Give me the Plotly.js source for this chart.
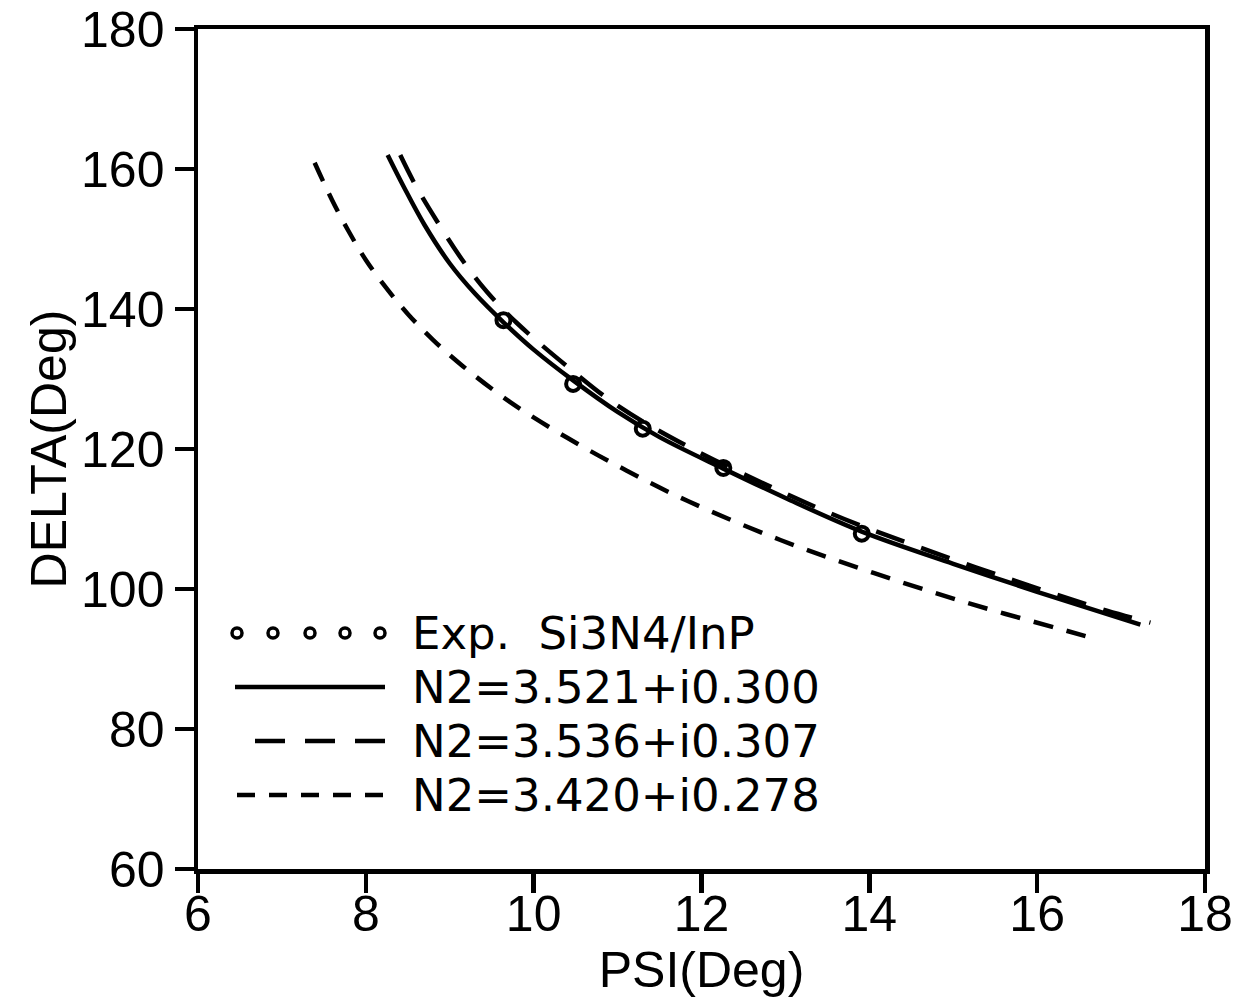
<!DOCTYPE html>
<html>
<head>
<meta charset="utf-8">
<script src="https://cdn.plot.ly/plotly-3.0.1.min.js"></script>
<style>html,body{margin:0;padding:0;background:#fff;}</style>
</head>
<body>
<div id="chart" style="width:1242px;height:998px;"></div>
<script>
// Experimental points
const expPsi   = [9.64, 10.47, 11.30, 12.26, 13.91];
const expDelta = [138.4, 129.3, 122.9, 117.3, 107.9];

// N2 = 3.521 + i0.300 (solid)
const solidPsi   = [8.26, 8.45, 8.70, 9.00, 9.30, 9.64, 10.00, 10.47, 11.00, 11.50, 12.26, 13.00, 13.91, 15.00, 16.00, 17.23];
const solidDelta = [162.0, 157.5, 152.0, 146.5, 142.2, 138.1, 134.2, 129.8, 125.3, 121.7, 117.2, 113.0, 108.2, 103.6, 99.6, 94.9];

// N2 = 3.536 + i0.307 (long dash)
const longPsi   = [8.41, 8.60, 8.85, 9.15, 9.44, 9.80, 10.43, 11.00, 11.80, 12.88, 13.70, 14.52, 15.68, 16.83, 17.35];
const longDelta = [162.0, 157.5, 152.5, 147.0, 142.5, 138.0, 131.5, 126.2, 120.6, 114.3, 110.0, 106.3, 101.4, 96.9, 95.2];

// N2 = 3.420 + i0.278 (short dash)
const shortPsi   = [7.39, 7.60, 7.80, 8.00, 8.25, 8.50, 8.80, 9.16, 9.72, 10.40, 11.11, 11.83, 12.94, 14.05, 15.20, 16.36, 16.66];
const shortDelta = [160.9, 155.5, 151.0, 147.0, 142.9, 139.3, 135.6, 131.8, 126.7, 121.6, 116.9, 112.6, 107.0, 102.3, 97.9, 94.0, 93.0];

const seriesNames = ["Exp.  Si3N4/InP", "N2=3.521+i0.300", "N2=3.536+i0.307", "N2=3.420+i0.278"];
const xTicks = [6, 8, 10, 12, 14, 16, 18];
const yTicks = [60, 80, 100, 120, 140, 160, 180];

const FONT = "Liberation Sans, Arial, sans-serif";
const LW = 4.5;

const traces = [
  {x: solidPsi, y: solidDelta, mode: "lines", name: seriesNames[1],
   line: {color: "#000", width: LW, shape: "spline", smoothing: 1}},
  {x: longPsi, y: longDelta, mode: "lines", name: seriesNames[2],
   line: {color: "#000", width: LW, dash: "30px,18px", shape: "spline", smoothing: 1}},
  {x: shortPsi, y: shortDelta, mode: "lines", name: seriesNames[3],
   line: {color: "#000", width: LW, dash: "20px,14px", shape: "spline", smoothing: 1}},
  {x: expPsi, y: expDelta, mode: "markers", name: seriesNames[0],
   marker: {symbol: "circle-open", size: 14, color: "#000", line: {width: 4, color: "#000"}}}
];

// Custom legend (paper coordinates)
const px = v => (v - 198) / 1007;
const py = v => (869 - v) / 840;
const rowY = [633, 687, 741, 795];
const shapes = [];
[237, 273, 310, 345, 380].forEach(cx => {
  shapes.push({type: "circle", xref: "paper", yref: "paper",
    x0: px(cx - 5), x1: px(cx + 5), y0: py(rowY[0] + 5), y1: py(rowY[0] - 5),
    line: {color: "#000", width: 3.5}});
});
shapes.push({type: "line", xref: "paper", yref: "paper", x0: px(235), x1: px(385), y0: py(rowY[1]), y1: py(rowY[1]),
  line: {color: "#000", width: LW}});
shapes.push({type: "line", xref: "paper", yref: "paper", x0: px(255), x1: px(385), y0: py(rowY[2]), y1: py(rowY[2]),
  line: {color: "#000", width: LW, dash: "30px,20px"}});
shapes.push({type: "line", xref: "paper", yref: "paper", x0: px(237), x1: px(385), y0: py(rowY[3]), y1: py(rowY[3]),
  line: {color: "#000", width: LW, dash: "18px,14px"}});

const annotations = seriesNames.map((t, i) => ({
  text: t, xref: "paper", yref: "paper", x: px(411), y: py(rowY[i]),
  xanchor: "left", yanchor: "middle", showarrow: false, borderpad: 0,
  font: {family: "DejaVu Sans, sans-serif", size: 45, color: "#000"}
}));

const layout = {
  width: 1242, height: 998,
  margin: {l: 198, r: 37, t: 29, b: 129, pad: 0},
  paper_bgcolor: "#fff", plot_bgcolor: "#fff",
  showlegend: false,
  font: {family: FONT, color: "#000"},
  xaxis: {
    range: [6, 18], tickvals: xTicks, ticktext: xTicks.map(String),
    showgrid: false, zeroline: false,
    showline: true, linecolor: "#000", linewidth: LW, mirror: true,
    ticks: "outside", ticklen: 19, tickwidth: LW, tickcolor: "#000",
    ticklabelstandoff: -22,
    tickfont: {family: FONT, size: 50, color: "#000"},
    title: {text: "PSI(Deg)", font: {family: FONT, size: 50, color: "#000"}, standoff: 0}
  },
  yaxis: {
    range: [60, 180], tickvals: yTicks, ticktext: yTicks.map(String),
    showgrid: false, zeroline: false,
    showline: true, linecolor: "#000", linewidth: LW, mirror: true,
    ticks: "outside", ticklen: 19, tickwidth: LW, tickcolor: "#000",
    tickfont: {family: FONT, size: 50, color: "#000"},
    title: {text: "DELTA(Deg)", font: {family: FONT, size: 50, color: "#000"}, standoff: 0}
  },
  shapes: shapes,
  annotations: annotations
};

Plotly.newPlot("chart", traces, layout, {staticPlot: true, displayModeBar: false});
</script>
</body>
</html>
